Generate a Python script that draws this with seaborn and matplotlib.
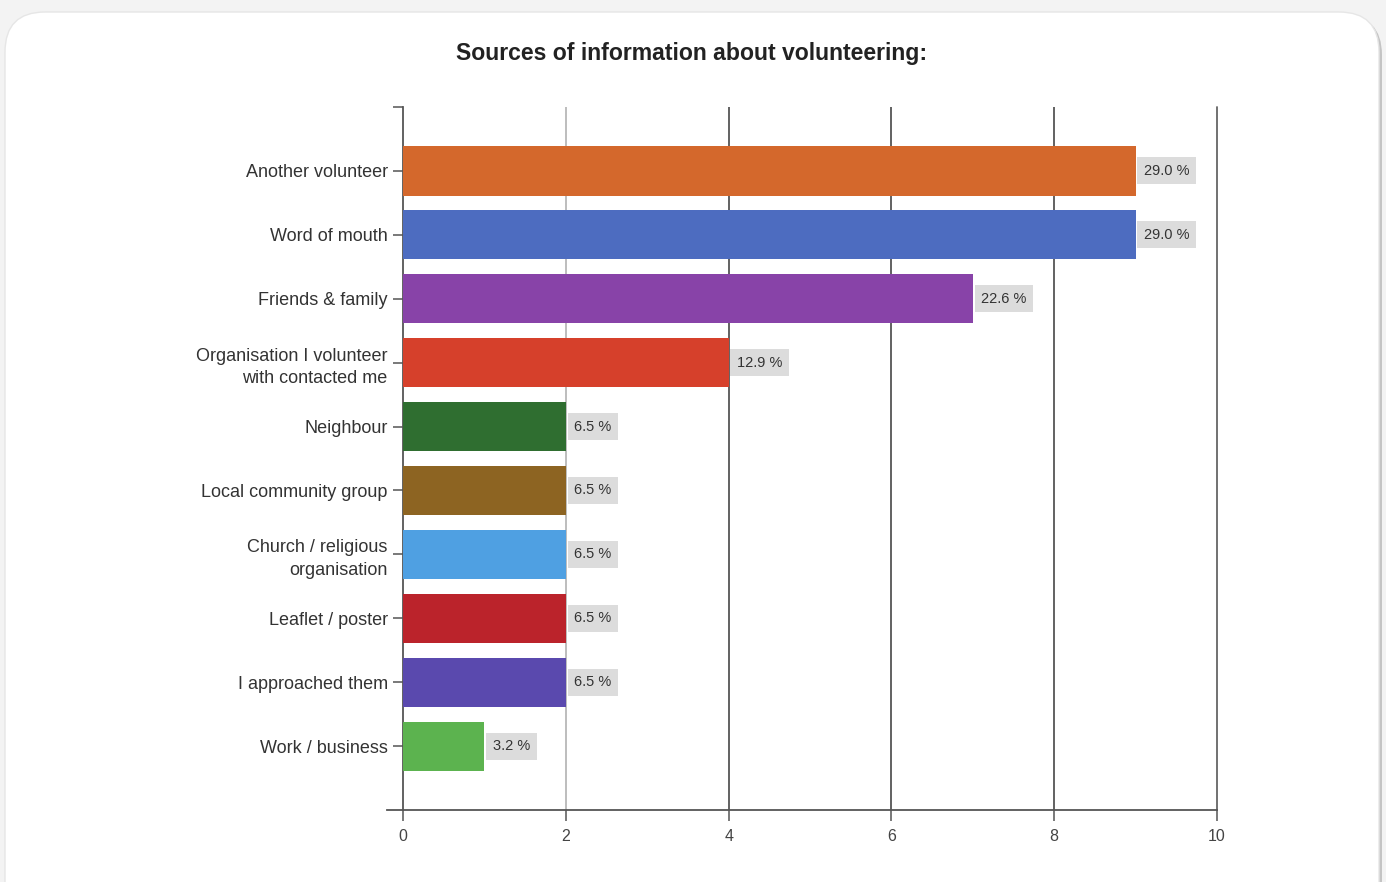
import matplotlib
matplotlib.use("Agg")
import matplotlib.pyplot as plt
from matplotlib.patches import FancyBboxPatch
import seaborn as sns
import pandas as pd

categories = ["Another volunteer", "Word of mouth", "Friends & family",
              "Organisation I volunteer\nwith contacted me", "Neighbour",
              "Local community group", "Church / religious\norganisation",
              "Leaflet / poster", "I approached them", "Work / business"]
counts = [9, 9, 7, 4, 2, 2, 2, 2, 2, 1]
pct_labels = ["29.0 %", "29.0 %", "22.6 %", "12.9 %", "6.5 %", "6.5 %",
              "6.5 %", "6.5 %", "6.5 %", "3.2 %"]
colors = ["#d4682c", "#4d6cc0", "#8843a8", "#d6402b", "#2f6e30",
          "#8d6422", "#4fa0e2", "#bb232b", "#5a49ae", "#5cb34f"]
xticks = [0, 2, 4, 6, 8, 10]
title = "Sources of information about volunteering:"

sns.set_style("white")
plt.rcParams['font.family'] = ['Liberation Sans', 'DejaVu Sans']

fig = plt.figure(figsize=(13.86, 8.82), dpi=100)
fig.patch.set_facecolor("#f3f3f3")

# card shadow and card
shadow = FancyBboxPatch((0.08, -0.55), 13.74, 9.22, boxstyle="round,pad=0,rounding_size=0.4",
                        transform=fig.dpi_scale_trans, facecolor="#c4c4c4", edgecolor="none",
                        zorder=-3)
card = FancyBboxPatch((0.05, -0.5), 13.74, 9.20, boxstyle="round,pad=0,rounding_size=0.4",
                      transform=fig.dpi_scale_trans, facecolor="white", edgecolor="#e6e6e6",
                      zorder=-2)
fig.patches.extend([shadow, card])

ax = fig.add_axes([0.2908, 0.0816, 0.5873, 0.7971])
ax.set_facecolor("none")

df = pd.DataFrame({"category": categories, "count": counts})
sns.barplot(data=df, x="count", y="category", hue="category", palette=colors,
            orient="h", width=0.77, legend=False, ax=ax, saturation=1,
            edgecolor="none", zorder=3)

ax.set_xlim(0, 10)
ax.set_ylim(len(categories), -1)
ax.set_xticks(xticks)
ax.set_xticklabels([str(t) for t in xticks])
ax.set_xlabel("")
ax.set_ylabel("")

ax.grid(axis="x", color="#555555", linewidth=1.3, zorder=0)
ax.grid(axis="y", visible=False)
ax.set_axisbelow(True)
gl = ax.xaxis.get_gridlines()
gl[1].set_color("#b8b8b8")
gl[0].set_visible(False)
gl[-1].set_clip_on(False)
gl[-1].set_color("#666666")

for s in ["top", "right"]:
    ax.spines[s].set_visible(False)
for s in ["left", "bottom"]:
    ax.spines[s].set_color("#555555")
    ax.spines[s].set_linewidth(1.3)
ax.spines["bottom"].set_bounds(-0.2, 10)

ax.set_yticks(range(len(categories)))
ax.set_yticks([-1], minor=True)
ax.tick_params(axis="y", which="both", left=True, length=7, width=1.1, color="#555555",
               labelsize=13, labelcolor="#333333", pad=4)
ax.tick_params(axis="x", bottom=True, length=8, width=1.1, color="#555555", labelsize=11.5,
               labelcolor="#444444", pad=6)
for lab in ax.get_yticklabels():
    lab.set_horizontalalignment("right")
    lab.set_multialignment("right")
    lab.set_linespacing(1.4)

for i, (v, t) in enumerate(zip(counts, pct_labels)):
    ax.annotate(t, xy=(v, i), xytext=(6, 0), textcoords="offset points",
                ha="left", va="center", fontsize=10.5, color="#333333", zorder=4,
                bbox=dict(boxstyle="square,pad=0.45", facecolor="#dcdcdc", edgecolor="none"))

fig.text(0.499, 0.939, title, ha="center", va="center", fontsize=16.6,
         fontweight="bold", color="#222222")

fig.savefig("out.png", dpi=100, facecolor=fig.get_facecolor())
